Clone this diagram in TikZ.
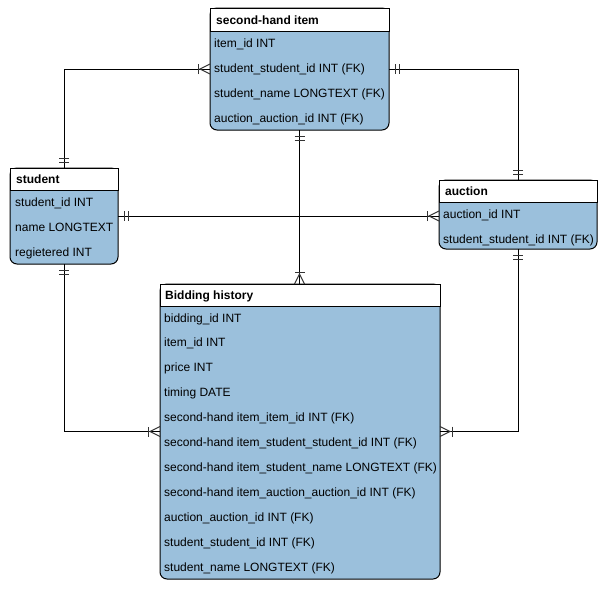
\documentclass[tikz,border=0pt]{standalone}
\usepackage{fontspec}
\setmainfont{Liberation Sans}
\usetikzlibrary{calc}
\definecolor{rowfill}{RGB}{155,192,220}
\tikzset{
  tbl/.style={draw=none, inner sep=0pt, outer sep=0pt, anchor=north west},
  rowtxt/.style={inner sep=0pt, anchor=base west, font=\fontsize{12}{14}\selectfont},
  hdrtxt/.style={inner sep=0pt, anchor=base west, font=\fontsize{12}{14}\selectfont\bfseries},
  conn/.style={line width=1pt, draw=black},
  ermark/.style={line width=1pt, draw=black!80},
  boxline/.style={line width=1pt, draw=black}
}
\newcommand\ertable[6]{%
  \node[tbl, minimum width=#4pt, minimum height=#5pt] (#1) at (#2,#3) {};
  \draw[boxline, fill=rowfill, rounded corners=7pt] (#1.north west) rectangle (#1.south east);
  \draw[boxline, fill=white] (#1.north west) rectangle ($(#1.north east)+(0,#6)$);
}
\newcommand\mandone[3]{%
  \draw[ermark] ($(#1)+({6*(#2)-5*(#3)},{6*(#3)-5*(#2)})$) -- ++({10*(#3)},{10*(#2)});
  \draw[ermark] ($(#1)+({10*(#2)-5*(#3)},{10*(#3)-5*(#2)})$) -- ++({10*(#3)},{10*(#2)});
}
\newcommand\onemany[3]{%
  \draw[ermark] ($(#1)+({5*(#3)},{5*(#2)})$) -- ($(#1)+({10*(#2)},{10*(#3)})$) -- ($(#1)+({-5*(#3)},{-5*(#2)})$);
  \draw[ermark] ($(#1)+({12*(#2)-5*(#3)},{12*(#3)-5*(#2)})$) -- ++({10*(#3)},{10*(#2)});
}
\begin{document}
\begin{tikzpicture}[x=1pt, y=-1pt]
\useasboundingbox[fill=white] (0,0) rectangle (602,592);

% tables
\ertable{item}{210}{8}{179}{122}{23}
\ertable{student}{10}{168}{108}{96}{22}
\ertable{auction}{439}{180}{158}{69}{22}
\ertable{bidding}{160}{284}{280}{295}{22}

% headers
\node[hdrtxt] (item-h) at (216,24) {second-hand item};
\node[hdrtxt] (student-h) at (16,183) {student};
\node[hdrtxt] (auction-h) at (445,195) {auction};
\node[hdrtxt] (bidding-h) at (165,299) {Bidding history};

% rows
\foreach \t [count=\i] in {item\_id INT, student\_student\_id INT (FK), student\_name LONGTEXT (FK), auction\_auction\_id INT (FK)}
  \node[rowtxt] (item-r\i) at (214,{47+25*(\i-1)}) {\t};
\foreach \t [count=\i] in {student\_id INT, name LONGTEXT, regietered INT}
  \node[rowtxt] (student-r\i) at (15,{206+25*(\i-1)}) {\t};
\foreach \t [count=\i] in {auction\_id INT, student\_student\_id INT (FK)}
  \node[rowtxt] (auction-r\i) at (443,{218+25*(\i-1)}) {\t};
\foreach \t [count=\i] in {bidding\_id INT, item\_id INT, price INT, timing DATE, second-hand item\_item\_id INT (FK), second-hand item\_student\_student\_id INT (FK), second-hand item\_student\_name LONGTEXT (FK), second-hand item\_auction\_auction\_id INT (FK), auction\_auction\_id INT (FK), student\_student\_id INT (FK), student\_name LONGTEXT (FK)}
  \node[rowtxt] (bidding-r\i) at (164,{322+24.9*(\i-1)}) {\t};

% connector end points
\coordinate (aw) at (student.east -| auction.west);
\coordinate (bn) at (item.south |- bidding.north);

% connectors
\draw[conn] (student.north) |- (item.west);
\draw[conn] (auction.north) |- (item.east);
\draw[conn] (student.east) -- (aw);
\draw[conn] (item.south) -- (bn);
\draw[conn] (student.south) |- (bidding.west);
\draw[conn] (auction.south) |- (bidding.east);

% markers
\mandone{student.north}{0}{-1}
\onemany{item.west}{-1}{0}
\mandone{item.east}{1}{0}
\mandone{auction.north}{0}{-1}
\mandone{student.east}{1}{0}
\onemany{aw}{-1}{0}
\mandone{item.south}{0}{1}
\onemany{bn}{0}{-1}
\mandone{student.south}{0}{1}
\onemany{bidding.west}{-1}{0}
\mandone{auction.south}{0}{1}
\onemany{bidding.east}{1}{0}
\end{tikzpicture}
\end{document}
